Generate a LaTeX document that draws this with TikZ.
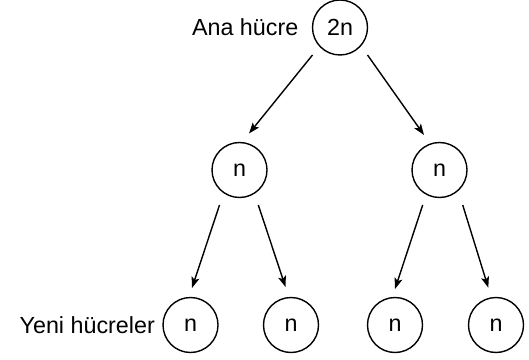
\documentclass[tikz,border=0pt]{standalone}
\usepackage{fontspec}
\setmainfont{Liberation Sans}
\usetikzlibrary{positioning, arrows.meta}
\tikzstyle{cell} = [draw, circle, line width=1.4pt, minimum size=55pt, inner sep=0pt, outer sep=0pt]
\tikzstyle{split} = [line width=1.4pt, -{Stealth[length=11pt, width=8pt, inset=2.5pt]}]

\begin{document}
\begin{tikzpicture}[x=1pt, y=1pt, font=\fontsize{23.3}{28}\selectfont]
    \useasboundingbox (0,0) rectangle (529,359);
    \node[cell] (top) at (340,331.5) {2n};
    \node[cell] (ml) at (239.5,189) {n};
    \node[cell] (mr) at (439.5,189) {n};
    \node[cell] (b1) at (190.5,34) {n};
    \node[cell] (b2) at (291,34) {n};
    \node[cell] (b3) at (395,34) {n};
    \node[cell] (b4) at (496,34) {n};
    \node[left=14pt of top, inner sep=0pt] (ana) {Ana hücre};
    \node[left=8pt of b1, inner sep=0pt] (yeni) {Yeni hücreler};
    \draw[split] (top.south -| top.west) -- ([xshift=9.5pt, yshift=9pt]ml.north);
    \draw[split] (top.south -| top.east) -- ([xshift=-15.5pt, yshift=7.5pt]mr.north);
    \draw[split] ([xshift=-20pt, yshift=-7.5pt]ml.south) -- ([xshift=1.5pt, yshift=9.5pt]b1.north);
    \draw[split] ([xshift=18.8pt, yshift=-7.5pt]ml.south) -- ([xshift=-5.5pt, yshift=10.5pt]b2.north);
    \draw[split] ([xshift=-16.8pt, yshift=-7.5pt]mr.south) -- ([yshift=8.5pt]b3.north);
    \draw[split] ([xshift=23.2pt, yshift=-7.5pt]mr.south) -- ([xshift=-7.7pt, yshift=9.8pt]b4.north);
\end{tikzpicture}
\end{document}
